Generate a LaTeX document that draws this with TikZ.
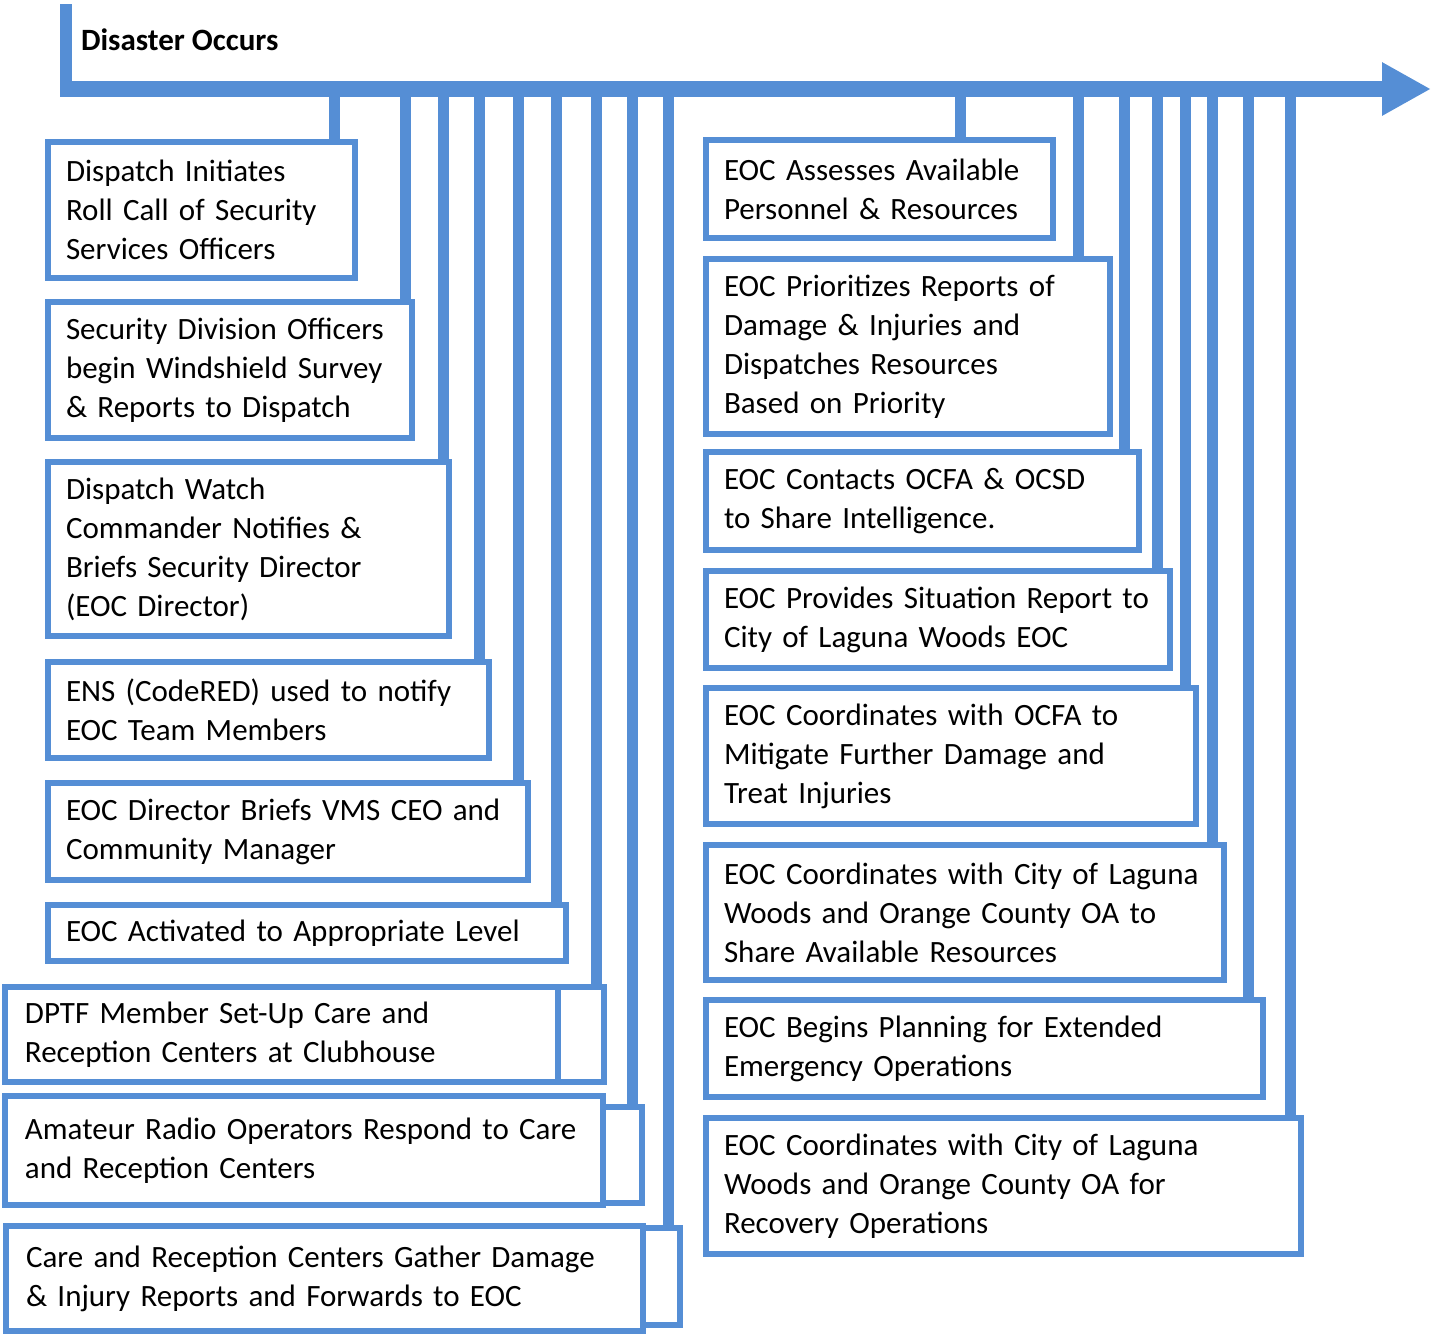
\documentclass[tikz,border=0pt]{standalone}
\usepackage{fontspec}
\setmainfont{Carlito}
\usepackage{tikz}
\usetikzlibrary{arrows.meta}
\definecolor{barblue}{RGB}{85,142,213}

\begin{document}
\begin{tikzpicture}[x=0.5pt,y=-0.5pt,
	stage/.style={draw=barblue,line width=3pt,outer sep=0pt,inner xsep=9pt,inner ysep=0pt,anchor=north west,align=left,font=\fontsize{15.5}{19.5}\selectfont},
	tab/.style={draw=barblue,line width=3pt,outer sep=0pt,inner sep=0pt,anchor=north west},
	link/.style={draw=barblue,line width=5.5pt}]

	\useasboundingbox (0,0) rectangle (1432,1334);

	% time line
	\draw[barblue,line width=6pt] (66,4) -- (66,97);
	\draw[barblue,line width=8pt,-{Triangle[length=24.5pt,width=25pt]}] (60,89) -- (1431,89);
	\node[anchor=west,font=\fontsize{15.5}{19.5}\selectfont\bfseries] (start) at (74,40) {Disaster Occurs};

	% left column
	\node[stage,text width=135.5pt,minimum height=68pt] (L1) at (48,142) {Dispatch Initiates\\Roll Call of Security\\Services Officers};
	\node[stage,text width=164pt,minimum height=68pt] (L2) at (48,302) {Security Division Officers\\begin Windshield Survey\\\& Reports to Dispatch};
	\node[stage,text width=182.5pt,minimum height=87pt] (L3) at (48,462) {Dispatch Watch\\Commander Notifies \&\\Briefs Security Director\\(EOC Director)};
	\node[stage,text width=202.5pt,minimum height=48pt] (L4) at (48,662) {ENS (CodeRED) used to notify\\EOC Team Members};
	\node[stage,text width=222pt,minimum height=48.5pt] (L5) at (48,783) {EOC Director Briefs VMS CEO and\\Community Manager};
	\node[stage,text width=241pt,minimum height=28pt] (L6) at (48,905) {EOC Activated to Appropriate Level};
	\node[stage,inner xsep=10pt,text width=256.5pt,minimum height=47.5pt] (L7) at (5,987) {DPTF Member Set-Up Care and\\Reception Centers at Clubhouse};
	\node[tab,minimum width=23pt,minimum height=47.5pt] (L7x) at (558,987) {};
	\node[stage,inner xsep=10pt,text width=279pt,minimum height=54.5pt] (L8) at (5,1096) {Amateur Radio Operators Respond to Care\\and Reception Centers};
	\node[tab,minimum width=19.5pt,minimum height=48pt] (L8x) at (603,1107) {};
	\node[stage,inner xsep=10pt,text width=298.5pt,minimum height=52.5pt] (L9) at (6,1226) {Care and Reception Centers Gather Damage\\\& Injury Reports and Forwards to EOC};
	\node[tab,minimum width=18.5pt,minimum height=48.5pt] (L9x) at (643,1228) {};

	% right column
	\node[stage,text width=155.5pt,minimum height=49pt] (R1) at (706,140) {EOC Assesses Available\\Personnel \& Resources};
	\node[stage,text width=184pt,minimum height=87.5pt] (R2) at (706,259) {EOC Prioritizes Reports of\\Damage \& Injuries and\\Dispatches Resources\\Based on Priority};
	\node[stage,text width=198.5pt,minimum height=49pt] (R3) at (706,452) {EOC Contacts OCFA \& OCSD\\to Share Intelligence.};
	\node[stage,text width=214pt,minimum height=48.5pt] (R4) at (706,571) {EOC Provides Situation Report to\\City of Laguna Woods EOC};
	\node[stage,text width=227pt,minimum height=68pt] (R5) at (706,688) {EOC Coordinates with OCFA to\\Mitigate Further Damage and\\Treat Injuries};
	\node[stage,text width=241pt,minimum height=67.5pt] (R6) at (706,845) {EOC Coordinates with City of Laguna\\Woods and Orange County OA to\\Share Available Resources};
	\node[stage,text width=260.5pt,minimum height=48.5pt] (R7) at (706,1000) {EOC Begins Planning for Extended\\Emergency Operations};
	\node[stage,text width=279.5pt,minimum height=68pt] (R8) at (706,1118) {EOC Coordinates with City of Laguna\\Woods and Orange County OA for\\Recovery Operations};

	% drops from the time line
	\foreach \x/\b in {334/L1,405/L2,443/L3,479/L4,518/L5,556/L6,596/L7x,632/L8x,668/L9x,960/R1,1078/R2,1124/R3,1157/R4,1185/R5,1212/R6,1248/R7,1290/R8} {
		\coordinate (t\b) at (\x,89);
		\draw[link] (t\b) -- (t\b |- \b.north);
	}
%	\draw[link] (tL1) -- (L1.north);
\end{tikzpicture}
\end{document}
